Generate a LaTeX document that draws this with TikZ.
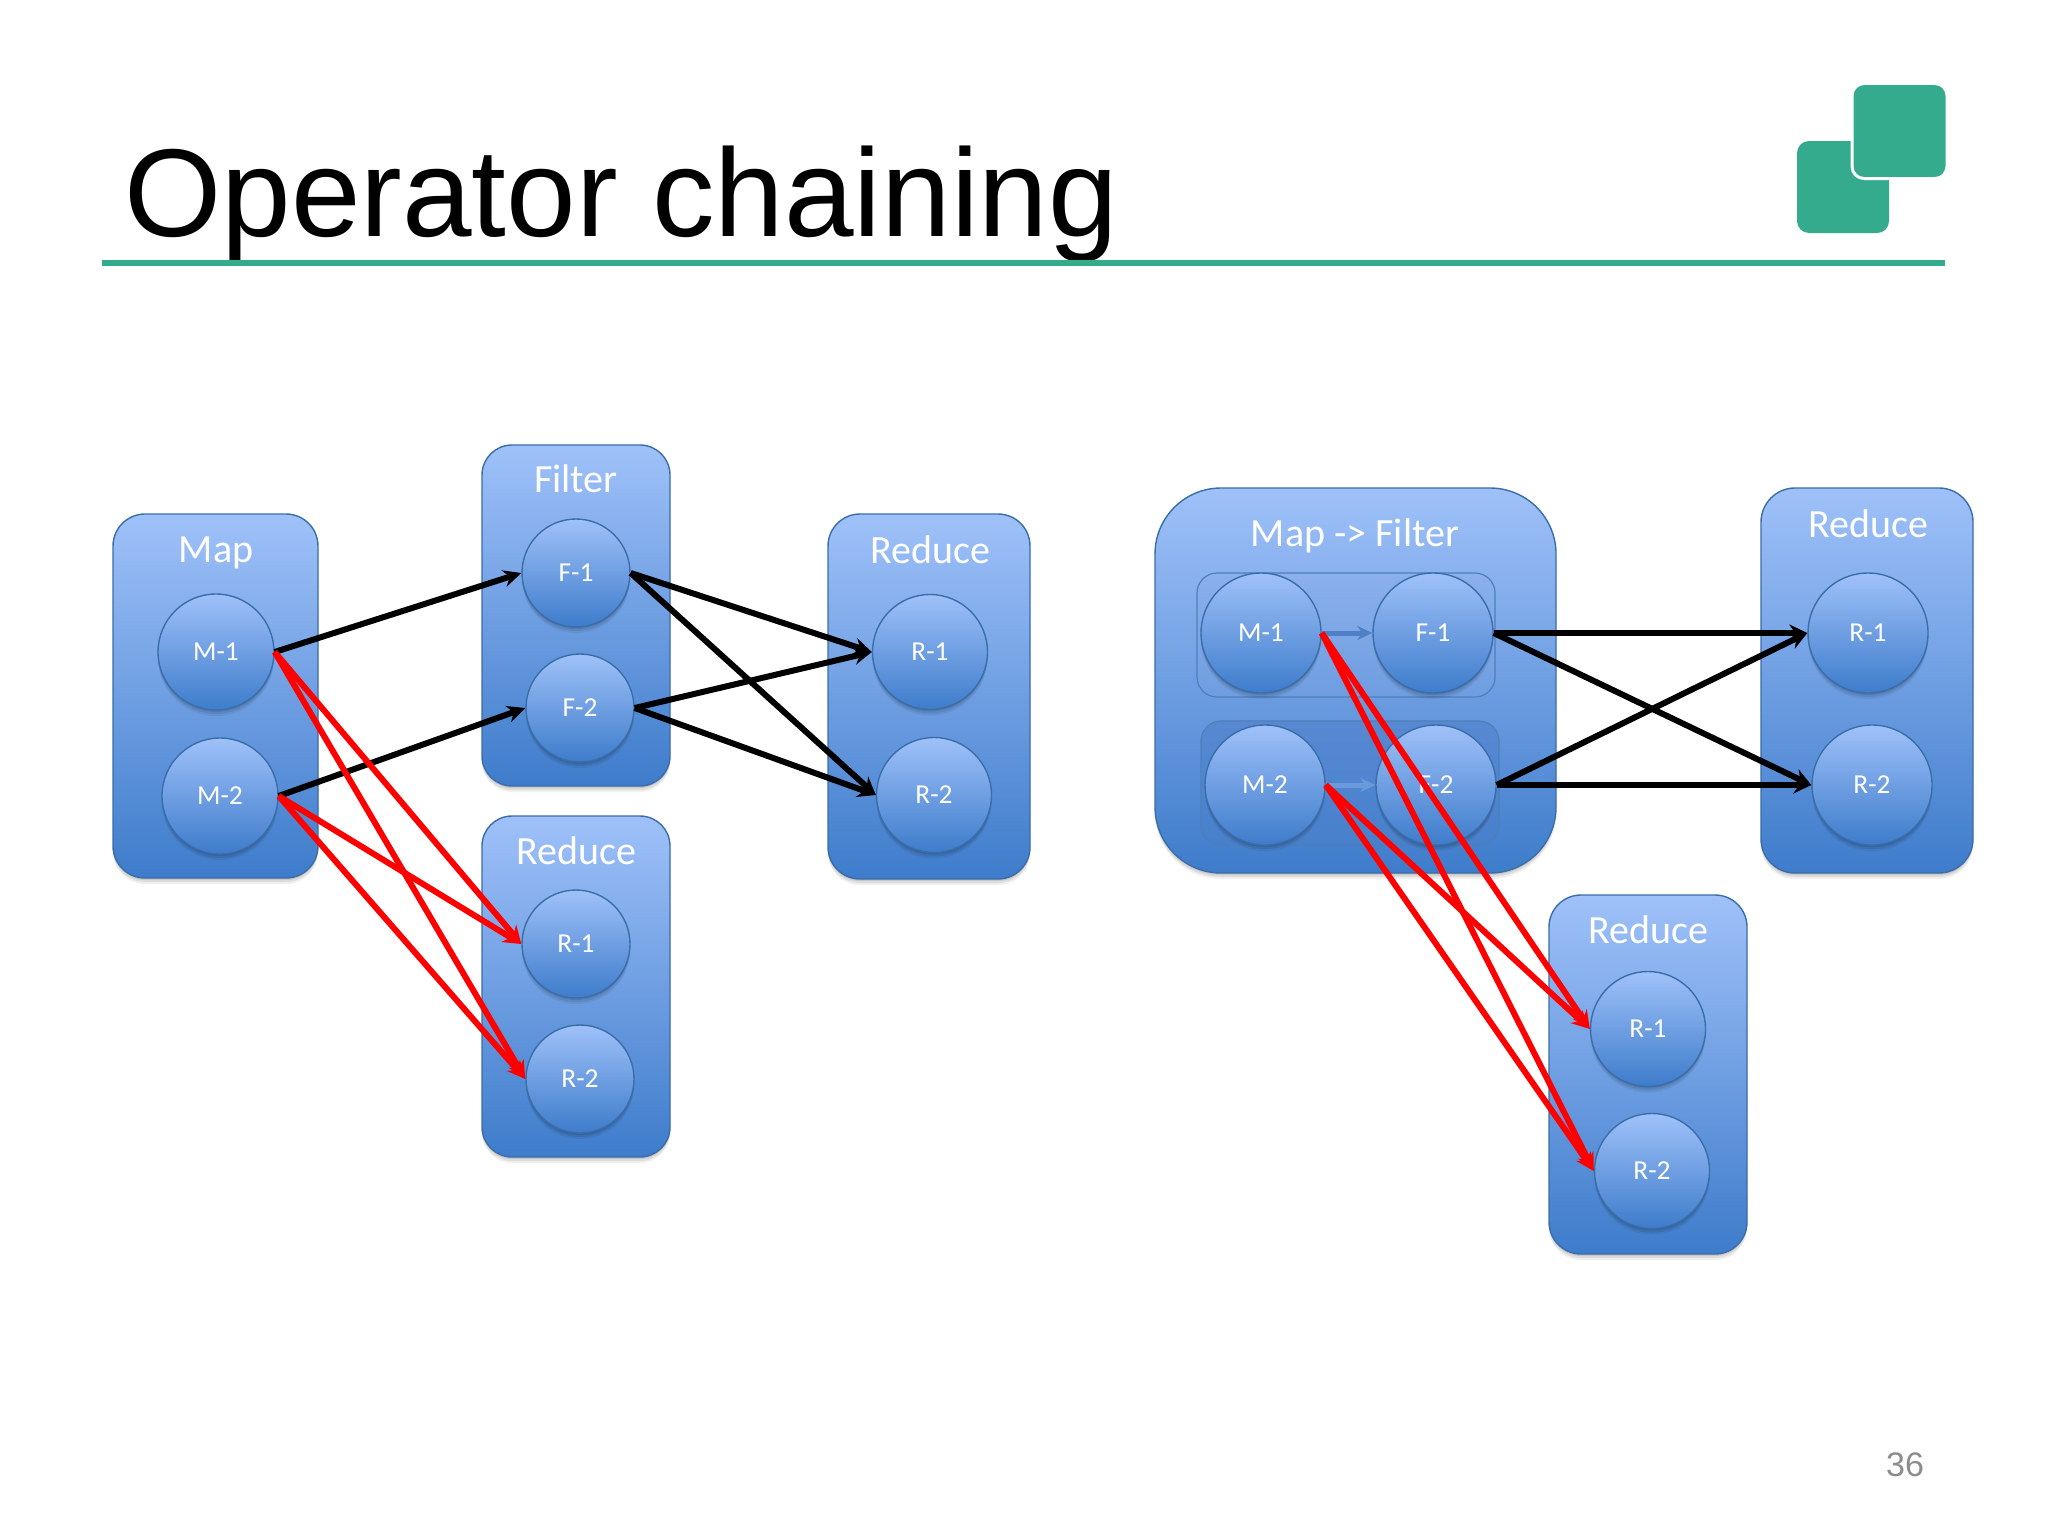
\documentclass[tikz,border=0pt]{standalone}
\usepackage{fontspec}
\setmainfont{Carlito}
\newfontfamily\arialf{Liberation Sans}
\usetikzlibrary{arrows.meta,shadows}
\definecolor{topblue}{HTML}{9FC1F9}
\definecolor{botblue}{HTML}{3E7CCB}
\definecolor{edgeblue}{HTML}{3A6EA9}
\definecolor{teal}{HTML}{35AB8E}
\definecolor{rowatop}{HTML}{8BB0EC}
\definecolor{rowabot}{HTML}{6E9DE0}
\definecolor{rowbtop}{HTML}{5789D2}
\definecolor{rowbbot}{HTML}{4880CC}
\definecolor{chaina}{HTML}{4F80C4}
\definecolor{chainb}{HTML}{6A9AD9}
\tikzset{
  softshadow/.style={
    drop shadow={shadow xshift=0pt,shadow yshift=-1pt,opacity=.09,fill=black},
    drop shadow={shadow xshift=0pt,shadow yshift=-2pt,opacity=.08,fill=black},
    drop shadow={shadow xshift=0pt,shadow yshift=-3pt,opacity=.06,fill=black}},
  opbox/.style={draw=edgeblue,line width=.7pt,top color=topblue,bottom color=botblue,rectangle,rounded corners=#1,softshadow,inner sep=0pt},
  opbox/.default=16pt,
  task/.style={circle,draw=edgeblue,line width=.7pt,top color=topblue,bottom color=botblue,softshadow,inner sep=0pt,minimum size=#1,text=white,font=\fontsize{13.7}{16}\selectfont},
  task/.default=58pt,
  boxlabel/.style={text=white,font=\fontsize{20}{24}\selectfont,inner sep=0pt},
  chainrow/.style={rectangle,rounded corners=10pt,draw=edgeblue!80!topblue,line width=.6pt,minimum width=149pt,minimum height=62pt,inner sep=0pt},
  net/.style={draw=black,line width=3pt,-{Stealth[length=9pt,width=8.5pt]}},
  fwd/.style={draw=red,line width=3pt,-{Stealth[length=9pt,width=8.5pt]}},
  chain/.style={line width=2.5pt,-{Stealth[length=7.5pt,width=7pt]}},
  logo/.style={rectangle,rounded corners=6pt,fill=teal,inner sep=0pt,minimum size=46pt},
}
\begin{document}
\begin{tikzpicture}[x=0.5pt,y=-0.5pt]
\useasboundingbox (0,0) rectangle (2048,1536);
\fill[white] (0,0) rectangle (2048,1536);
% title and logo
\node[anchor=base west,inner sep=0pt,font=\arialf\fontsize{62.5}{70}\selectfont] (title) at (124,236) {Operator chaining};
\node[rectangle,fill=teal,inner sep=0pt,minimum width=921.5pt,minimum height=3pt] (rule) at (1023.5,263) {};
\node[logo] (logoback) at (1843,187) {};
\node[logo,draw=white,line width=1.5pt,minimum size=47.5pt] (logofront) at (1899.5,131) {};
\node[text=black!45,font=\arialf\fontsize{17}{20}\selectfont,inner sep=0pt] (page) at (1905,1465) {36};
% left boxes
\node[opbox,minimum width=102.5pt,minimum height=182pt] (mapbox) at (215.5,696) {};
\node[opbox=15pt,minimum width=94pt,minimum height=170.5pt] (filterbox) at (576,615.5) {};
\node[opbox,minimum width=101pt,minimum height=182.5pt] (redabox) at (929,696.5) {};
\node[opbox=15pt,minimum width=94pt,minimum height=170.5pt] (redbbox) at (576,986.5) {};
\node[boxlabel] (maplabel) at (216,552.5) {Map};
\node[boxlabel] (filterlabel) at (576,479) {Filter};
\node[boxlabel] (redalabel) at (930,550) {Reduce};
\node[boxlabel] (redblabel) at (576,851) {Reduce};
\node[task] (m1) at (216,652) {M-1};
\node[task] (m2) at (220,796) {M-2};
\node[task=54pt] (f1) at (576,573) {F-1};
\node[task=54pt] (f2) at (580,708) {F-2};
\node[task=57.5pt] (ra1) at (930,652) {R-1};
\node[task=57.5pt] (ra2) at (934,795) {R-2};
\node[task=54pt] (rb1) at (576,944) {R-1};
\node[task=54pt] (rb2) at (580,1079) {R-2};
% right boxes
\node[opbox=33pt,minimum width=200.5pt,minimum height=192.5pt] (chainbox) at (1355.5,680.5) {};
\node[chainrow,top color=rowatop,bottom color=rowabot] (row1) at (1346,635) {};
\node[chainrow,top color=rowbtop,bottom color=rowbbot] (row2) at (1350,783) {};
\node[opbox=17pt,minimum width=106pt,minimum height=192.5pt] (redcbox) at (1867,680.5) {};
\node[opbox=16pt,minimum width=99pt,minimum height=179.5pt] (reddbox) at (1648,1074.5) {};
\node[boxlabel] (chainlabel) at (1355,535.5) {Map -> Filter};
\node[boxlabel] (redclabel) at (1868,524) {Reduce};
\node[boxlabel] (reddlabel) at (1648,930) {Reduce};
\node[task=60pt] (cm1) at (1261,633) {M-1};
\node[task=60pt] (cf1) at (1433,633) {F-1};
\node[task=60pt] (cm2) at (1265,785) {M-2};
\node[task=60pt] (cf2) at (1436,785) {F-2};
\node[task=60pt] (rc1) at (1868,633) {R-1};
\node[task=60pt] (rc2) at (1872,785) {R-2};
\node[task=57.5pt] (rd1) at (1648,1029) {R-1};
\node[task=57.5pt] (rd2) at (1652,1171) {R-2};
\draw[chain,draw=chaina,fill=chaina] (cm1.east) -- (cf1.west);
\draw[chain,draw=chainb,fill=chainb] (cm2.east) -- (cf2.west);
% left connectors
\draw[net] (m1.east) -- (f1.west);
\draw[net] (m2.east) -- (f2.west);
\draw[net] (f1.east) -- (ra1.west);
\draw[net] (f1.east) -- (ra2.west);
\draw[net] (f2.east) -- (ra1.west);
\draw[net] (f2.east) -- (ra2.west);
\draw[fwd] (m1.east) -- (rb1.west);
\draw[fwd] (m1.east) -- (rb2.west);
\draw[fwd] (m2.east) -- (rb1.west);
\draw[fwd] (m2.east) -- (rb2.west);
% right connectors
\draw[net] (cf1.east) -- (rc1.west);
\draw[net] (cf1.east) -- (rc2.west);
\draw[net] (cf2.east) -- (rc1.west);
\draw[net] (cf2.east) -- (rc2.west);
\draw[fwd] (cm1.east) -- (rd1.west);
\draw[fwd] (cm1.east) -- (rd2.west);
\draw[fwd] (cm2.east) -- (rd1.west);
\draw[fwd] (cm2.east) -- (rd2.west);
\end{tikzpicture}
\end{document}
